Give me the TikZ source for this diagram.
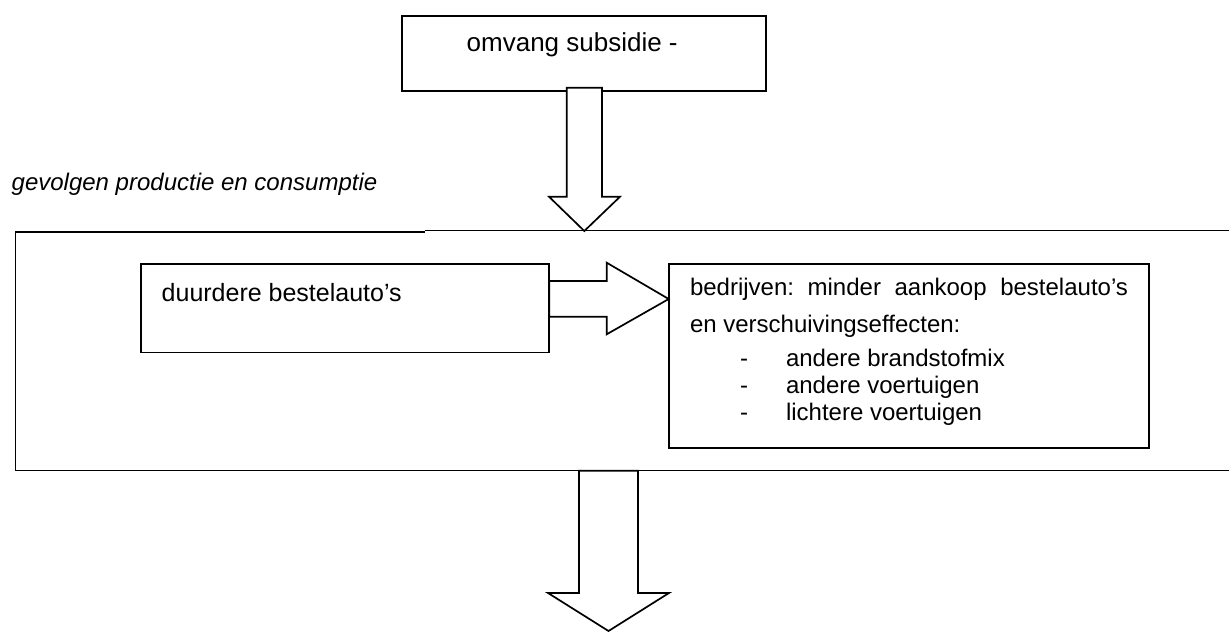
\documentclass[tikz,border=0pt]{standalone}
\usepackage{fontspec}
\setmainfont{Liberation Sans}
\usetikzlibrary{calc}
\begin{document}
\begin{tikzpicture}[x=0.5pt,y=-0.5pt,
  box/.style={draw, line width=0.85pt, inner sep=0pt, outer sep=0pt, anchor=north west},
  lbl/.style={inner sep=0pt, outer sep=0pt, anchor=base west, font=\fontsize{12}{14}\selectfont},
  blockarrow/.style={draw, fill=white, line width=0.85pt, line join=miter}]
\useasboundingbox (0,0) rectangle (1229,631);

% frame
\coordinate (fTL) at (15.7,232);
\coordinate (fJ) at (425,232);
\coordinate (fJR) at (425,230.5);
\coordinate (fTR) at (1229,230.5);
\coordinate (fBL) at (15.7,470.7);
\coordinate (fBR) at (1229,470.7);
\draw[line width=0.6pt] (fJ) -- (fTL) -- (fBL) -- (fBR);
\draw[line width=0.85pt] (fJR) -- (fTR);

% boxes
\node[box, minimum width=181.85pt, minimum height=37.5pt] (top) at (402,15.7) {};
\node[box, minimum width=204.3pt, minimum height=44.25pt] (left) at (140.7,264) {};
\node[box, minimum width=240.15pt, minimum height=92pt] (right) at (668.7,264) {};

% texts
\node[lbl, font=\fontsize{13}{15}\selectfont] (ttop) at (466.7,52) {omvang subsidie -};
\node[lbl, font=\fontsize{12}{14}\selectfont\itshape] (tgev) at (11.7,190) {gevolgen productie en consumptie};
\node[lbl, font=\fontsize{12.5}{15}\selectfont] (tleft) at (161.7,301.7) {duurdere bestelauto’s};
\node[lbl] (tr1) at (690,295) {\hbox to 219pt{bedrijven:\hfill minder\hfill aankoop\hfill bestelauto’s}};
\node[lbl] (tr2) at (690,332) {en verschuivingseffecten:};
\node[lbl] (d1) at (740,366) {-};
\node[lbl] (d2) at (740,393) {-};
\node[lbl] (d3) at (740,420) {-};
\node[lbl] (i1) at (786,366) {andere brandstofmix};
\node[lbl] (i2) at (786,393) {andere voertuigen};
\node[lbl] (i3) at (786,420) {lichtere voertuigen};

% top block arrow (top -> frame)
\coordinate (a1) at ($(top.south west)+(182.3,-3)$);
\coordinate (a1tip) at (584.3,231);
\draw[blockarrow] ($(a1)+(-17.65,0)$) -- ($(a1)+(-17.65,109)$) -- ($(a1)+(-35.3,109)$)
  -- (a1tip) -- ($(a1)+(35.7,109)$) -- ($(a1)+(17.7,109)$) -- ($(a1)+(17.7,0)$) -- cycle;

% right block arrow (left -> right)
\coordinate (a2) at ($(left.north east)+(0,35)$);
\coordinate (a2tip) at ($(right.north west)+(0,35)$);
\draw[blockarrow] ($(a2)+(0,-18)$) -- ($(a2)+(57.4,-18)$) -- ($(a2)+(57.4,-36.3)$)
  -- (a2tip) -- ($(a2)+(57.4,35.3)$) -- ($(a2)+(57.4,17.7)$) -- ($(a2)+(0,17.7)$) -- cycle;

% bottom block arrow (frame -> out)
\coordinate (a3) at (608.5,470.7);
\coordinate (a3tip) at (608.5,631);
\draw[blockarrow] ($(a3)+(-29.5,0)$) -- ($(a3)+(-29.5,122.3)$) -- ($(a3)+(-60.5,122.3)$)
  -- (a3tip) -- ($(a3)+(60.5,122.3)$) -- ($(a3)+(29.5,122.3)$) -- ($(a3)+(29.5,0)$) -- cycle;
\draw[line width=0.6pt] (fBL) -- (fBR);
\end{tikzpicture}
\end{document}
